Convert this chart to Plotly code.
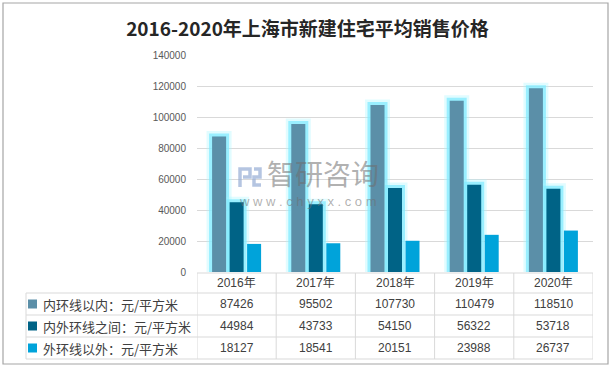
import plotly.graph_objects as go

# ---------------- data ----------------
years = ["2016年", "2017年", "2018年", "2019年", "2020年"]
series_names = ["内环线以内：元/平方米", "内外环线之间：元/平方米", "外环线以外：元/平方米"]
inner_ring = [87426, 95502, 107730, 110479, 118510]
between_rings = [44984, 43733, 54150, 56322, 53718]
outer_ring = [18127, 18541, 20151, 23988, 26737]
series_values = [inner_ring, between_rings, outer_ring]
title_text = "2016-2020年上海市新建住宅平均销售价格"

# ---------------- style ----------------
W_PX, H_PX = 615, 374
L, R, T, B = 197, 22, 55, 102
PW = W_PX - L - R
PH = H_PX - T - B
colors = ["#5B8FA8", "#006386", "#00A3DA"]
glow = [True, True, False]
unit_px = PW / len(years)
bar_w = 14 / unit_px
centers = [-17.5 / unit_px, 0.0, 17.5 / unit_px]
GRID = "#D9D9D9"
TXT = "#404040"
FONT = "Liberation Sans, Noto Sans CJK SC, sans-serif"


def px_x(px):
    return (px - L) / PW


def px_y(py):
    return (H_PX - B - py) / PH


fig = go.Figure()

# glow layers
for vals, c, g, off in zip(series_values, colors, glow, centers):
    if not g:
        continue
    for lw, col in [(11, "rgba(170,245,255,0.35)"), (6, "rgba(130,235,255,0.75)")]:
        fig.add_trace(go.Bar(
            x=years, y=vals, width=bar_w, offset=off - bar_w / 2,
            marker=dict(color=col, line=dict(color=col, width=lw)),
            hoverinfo="skip", showlegend=False))

# real bars
for name, vals, c, off in zip(series_names, series_values, colors, centers):
    fig.add_trace(go.Bar(
        x=years, y=vals, name=name, width=bar_w, offset=off - bar_w / 2,
        marker=dict(color=c, line=dict(width=0)), showlegend=False))

shapes = []
annotations = []

# outer border
shapes.append(dict(type="rect", xref="paper", yref="paper",
                   x0=px_x(3), x1=px_x(608), y0=px_y(364), y1=px_y(3),
                   line=dict(color="#A6A6A6", width=1.2), fillcolor="rgba(0,0,0,0)", layer="below"))

# table grid
row_lines = [273, 293, 315, 337, 359]
tbl_left = 26
tbl_right = L + PW
for i, ry in enumerate(row_lines):
    x0 = L if i == 0 else tbl_left
    shapes.append(dict(type="line", xref="paper", yref="paper",
                       x0=px_x(x0), x1=px_x(tbl_right), y0=px_y(ry), y1=px_y(ry),
                       line=dict(color=GRID, width=1)))
shapes.append(dict(type="line", xref="paper", yref="paper",
                   x0=px_x(tbl_left), x1=px_x(tbl_left), y0=px_y(293), y1=px_y(359),
                   line=dict(color=GRID, width=1)))
for k in range(len(years) + 1):
    shapes.append(dict(type="line", xref="x", yref="paper",
                       x0=k - 0.5, x1=k - 0.5, y0=px_y(273), y1=px_y(359),
                       line=dict(color=GRID, width=1)))

row_centers = [283, 304, 326, 348]
for yr in years:
    annotations.append(dict(x=yr, xref="x", y=px_y(row_centers[0]), yref="paper",
                            text=yr, showarrow=False, xanchor="center", yanchor="middle",
                            font=dict(family=FONT, size=12, color=TXT)))
for r, (name, vals, c) in enumerate(zip(series_names, series_values, colors)):
    cy = row_centers[r + 1]
    shapes.append(dict(type="rect", xref="paper", yref="paper",
                       x0=px_x(28), x1=px_x(37), y0=px_y(cy + 4.5), y1=px_y(cy - 4.5),
                       fillcolor=c, line=dict(width=0)))
    annotations.append(dict(x=px_x(41), xref="paper", y=px_y(cy), yref="paper",
                            text=name, showarrow=False, xanchor="left", yanchor="middle",
                            font=dict(family="Noto Sans CJK SC, sans-serif", size=13, color=TXT)))
    for yr, v in zip(years, vals):
        annotations.append(dict(x=yr, xref="x", y=px_y(cy), yref="paper",
                                text=str(v), showarrow=False, xanchor="center", yanchor="middle",
                                font=dict(family=FONT, size=12, color=TXT)))

# watermark
annotations.append(dict(x=px_x(323), xref="paper", y=px_y(194), yref="paper",
                        text="智研咨询", showarrow=False, xanchor="center", yanchor="bottom",
                        borderpad=0,
                        font=dict(family="Noto Sans CJK SC, sans-serif", size=28,
                                  color="rgba(110,110,110,0.55)")))
annotations.append(dict(x=px_x(308), xref="paper", y=px_y(193), yref="paper",
                        text="w w w . c h y x x . c o m", showarrow=False, xanchor="center",
                        yanchor="top", borderpad=0,
                        font=dict(family=FONT, size=13, color="rgba(110,110,110,0.55)")))


def wm_path(pts):
    return "M " + " L ".join(f"{px_x(a)} {px_y(b)}" for a, b in pts)


for pts in [[(240, 187), (240, 169), (250, 169), (250, 177), (243, 177)],
            [(254, 169), (260, 169), (260, 177), (254, 177), (254, 185), (261, 185)]]:
    shapes.append(dict(type="path", xref="paper", yref="paper", path=wm_path(pts),
                       line=dict(color="rgba(150,172,212,0.7)", width=3.5)))

fig.update_layout(
    width=W_PX, height=H_PX,
    margin=dict(l=L, r=R, t=T, b=B),
    paper_bgcolor="white", plot_bgcolor="white",
    barmode="overlay",
    title=dict(text=title_text, x=0.5, xref="container", xanchor="center",
               y=1 - 29 / H_PX, yref="container", yanchor="middle",
               font=dict(family="Noto Sans CJK SC, sans-serif", size=19, color="#262626",
                         weight="bold")),
    xaxis=dict(type="category", range=[-0.5, len(years) - 0.5], showticklabels=False,
               showgrid=False, zeroline=False, showline=False, fixedrange=True),
    yaxis=dict(range=[0, 140000], dtick=20000, tickformat="d", showgrid=True,
               gridcolor=GRID, gridwidth=1, zeroline=False, showline=False, ticks="",
               ticklabelstandoff=10,
               tickfont=dict(family=FONT, size=10, color="#595959")),
    shapes=shapes,
    annotations=annotations,
)

fig.write_html("out.html", config={"displayModeBar": False},
               post_script="document.body.style.margin='0';document.body.style.overflow='hidden';")
